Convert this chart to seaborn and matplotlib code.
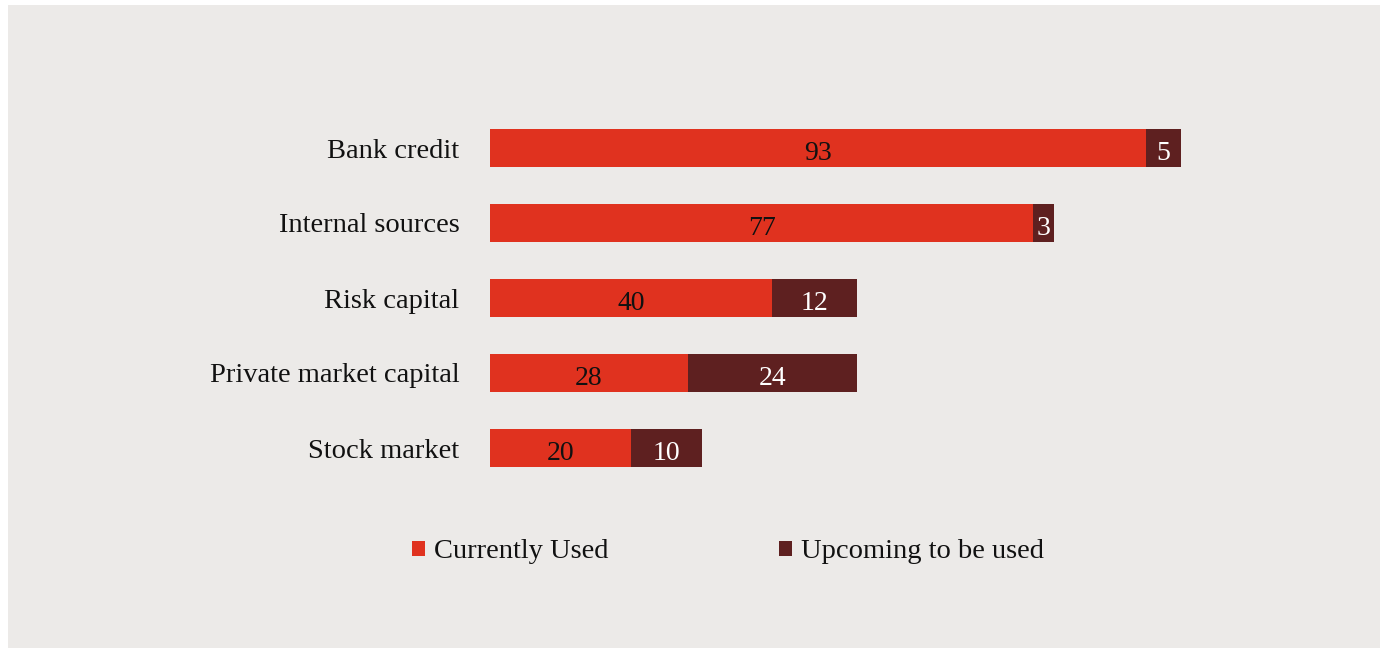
import matplotlib
matplotlib.use("Agg")
import matplotlib.pyplot as plt
import seaborn as sns
import pandas as pd
from matplotlib.patches import Patch

# data
categories = ["Bank credit", "Internal sources", "Risk capital",
              "Private market capital", "Stock market"]
currently_used = [93, 77, 40, 28, 20]
upcoming = [5, 3, 12, 24, 10]

red = "#E0321F"
maroon = "#5E2020"
bg = "#ECEAE8"

df = pd.DataFrame({"category": categories,
                   "current": currently_used,
                   "upcoming": upcoming})
df["total"] = df["current"] + df["upcoming"]

sns.set_theme(style="white")
plt.rcParams["font.family"] = ["Liberation Serif", "DejaVu Serif"]

fig = plt.figure(figsize=(13.8, 6.48), dpi=100)
fig.patch.set_facecolor("white")
# grey panel behind everything
fig.patches.append(plt.Rectangle((8 / 1380, 0), 1 - 8 / 1380, 1 - 5 / 648,
                                 transform=fig.transFigure, facecolor=bg,
                                 edgecolor="none", zorder=-10))

ax = fig.add_axes([490 / 1380, (648 - 485.5) / 648, 705.4 / 1380, 375 / 648])
ax.set_facecolor("none")

# stacked bars: totals in maroon, current on top in red
sns.barplot(data=df, x="total", y="category", color=maroon, width=0.5,
            saturation=1, linewidth=0, ax=ax)
sns.barplot(data=df, x="current", y="category", color=red, width=0.5,
            saturation=1, linewidth=0, ax=ax)

ax.set_xlim(0, 100)
ax.set_ylim(4.5, -0.5)
ax.set_xlabel("")
ax.set_ylabel("")
ax.set_xticks([])
for s in ax.spines.values():
    s.set_visible(False)
ax.tick_params(axis="y", length=0, pad=22, labelsize=20.5, labelcolor="#111111")

# value labels
for i, (c, u) in enumerate(zip(currently_used, upcoming)):
    ax.text(c / 2, i + 0.07, str(c), ha="center", va="center",
            fontsize=20, color="#111111")
    ax.text(c + u / 2, i + 0.07, str(u), ha="center", va="center",
            fontsize=20, color="white")

handles = [Patch(facecolor=red, edgecolor="none", label="Currently Used"),
           Patch(facecolor=maroon, edgecolor="none", label="Upcoming to be used")]
leg = fig.legend(handles=handles, loc="center", bbox_to_anchor=(728 / 1380, 96 / 648),
                 ncol=2, frameon=False, fontsize=20.5, handlelength=0.45,
                 handleheight=0.45, handletextpad=0.3, columnspacing=6.0)
for t in leg.get_texts():
    t.set_color("#111111")

fig.savefig("out.png", dpi=100, facecolor=fig.get_facecolor())
